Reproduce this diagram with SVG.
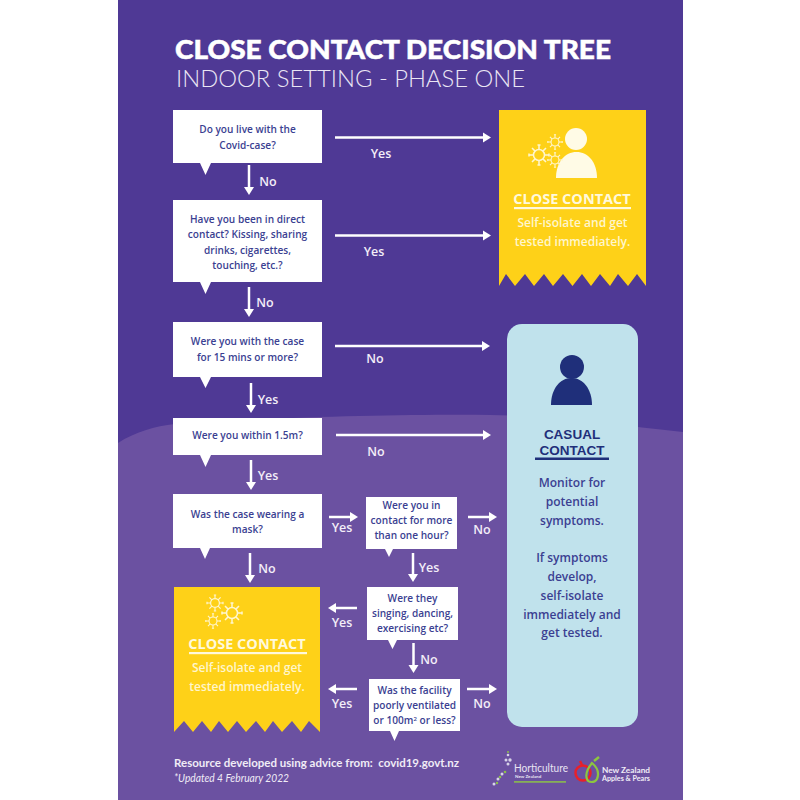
<svg xmlns="http://www.w3.org/2000/svg" width="800" height="800" viewBox="0 0 800 800">
<style>
.q{font:600 10.1px "Open Sans","Liberation Sans",sans-serif;fill:#3b3f92;text-anchor:middle}
.b{fill:#fff}
.y{fill:#fed118}
.l{font:600 12.5px "Open Sans","Liberation Sans",sans-serif;fill:#f3eef8;text-anchor:middle}
.cc{font:700 14.5px "Open Sans","Liberation Sans",sans-serif;fill:#fff9dc;text-anchor:middle}
.cs{font:600 12px "Open Sans","Liberation Sans",sans-serif;fill:#fff6cc;text-anchor:middle}
.ct{font:600 12px "Open Sans","Liberation Sans",sans-serif;fill:#3b3f92;text-anchor:middle}
.ch{font:700 13.5px "Liberation Sans",sans-serif;fill:#1f2f7a;text-anchor:middle}
.a{stroke:#fff;stroke-width:2.5;fill:none;marker-end:url(#ah)}
.f{font-family:"Lato","Liberation Sans",sans-serif;fill:#f0ecf6}
</style>
<defs>
<marker id="ah" markerUnits="userSpaceOnUse" markerWidth="9" markerHeight="11" refX="1" refY="5.5" orient="auto"><path d="M0 0.5L8 5.5L0 10.5Z" fill="#fff"/></marker>
<g id="v" fill="none" stroke="#fff6cf" stroke-width="1.5"><circle r="5.5"/><path d="M0-5.500V-10M0 5.500V10M-5.500 0H-10M5.500 0H10M-3.900-3.900L-7-7M3.900-3.900L7-7M-3.900 3.900L-7 7M3.900 3.900L7 7M-1.500-10H1.500M-1.500 10H1.500M-10-1.500V1.500M10-1.500V1.500"/></g>
</defs>
<rect width="800" height="800" fill="#fff"/>
<rect x="118" y="0" width="565" height="800" fill="#4f3995"/>
<path d="M118 443C135 432 155 426 175 424C260 418 400 414 490 415C560 416 625 426 683 432V800H118Z" fill="#6b51a1"/>
<g id="title">
<text x="175" y="59" font-family="Lato,'Liberation Sans',sans-serif" font-weight="900" font-size="27" fill="#fff" stroke="#fff" stroke-width=".5" textLength="436" lengthAdjust="spacingAndGlyphs">CLOSE CONTACT DECISION TREE</text>
<text x="176" y="87" font-family="Lato,'Liberation Sans',sans-serif" font-weight="300" font-size="24" fill="#eae6f4" textLength="349" lengthAdjust="spacingAndGlyphs">INDOOR SETTING - PHASE ONE</text>
</g>
<g id="connectors">
<path class="a" d="M335 137.500H484"/>
<path class="a" d="M335 235.500H484"/>
<path class="a" d="M335 346H483"/>
<path class="a" d="M336 435H484"/>
<path class="a" d="M249 165V188"/>
<path class="a" d="M249 287V310"/>
<path class="a" d="M251 383V406"/>
<path class="a" d="M251 460V483"/>
<path class="a" d="M250 553V576"/>
<path class="a" d="M329 517H351"/>
<path class="a" d="M468 517H490"/>
<path class="a" d="M413 553V575"/>
<path class="a" d="M357 608H335"/>
<path class="a" d="M413.500 643V666"/>
<path class="a" d="M357 689H335"/>
<path class="a" d="M467 689H490"/>
</g>
<g id="connector-labels">
<text class="l" x="381" y="158">Yes</text>
<text class="l" x="374" y="256">Yes</text>
<text class="l" x="375" y="363">No</text>
<text class="l" x="376" y="456">No</text>
<text class="l" x="268" y="186">No</text>
<text class="l" x="265" y="307">No</text>
<text class="l" x="268" y="404">Yes</text>
<text class="l" x="268" y="480">Yes</text>
<text class="l" x="342" y="532">Yes</text>
<text class="l" x="482" y="534">No</text>
<text class="l" x="267" y="573">No</text>
<text class="l" x="429" y="572">Yes</text>
<text class="l" x="342" y="627">Yes</text>
<text class="l" x="429" y="664">No</text>
<text class="l" x="342" y="708">Yes</text>
<text class="l" x="482" y="708">No</text>
</g>
<g id="q1"><path class="b" d="M173 110H322V163H211L205.500 175L200 163H173Z"/><text class="q" x="247.500" y="133">Do you live with the</text><text class="q" x="247.500" y="149">Covid-case?</text></g>
<g id="q2"><path class="b" d="M173 200H322V282H211L205.500 294L200 282H173Z"/><text class="q" x="247.500" y="223">Have you been in direct</text><text class="q" x="247.500" y="238">contact? Kissing, sharing</text><text class="q" x="247.500" y="254">drinks, cigarettes,</text><text class="q" x="247.500" y="269">touching, etc.?</text></g>
<g id="q3"><path class="b" d="M173 322H322V377H211L205.500 388L200 377H173Z"/><text class="q" x="247.500" y="345">Were you with the case</text><text class="q" x="247.500" y="361">for 15 mins or more?</text></g>
<g id="q4"><path class="b" d="M173 418H322V455H211L205.500 467L200 455H173Z"/><text class="q" x="247.500" y="439">Were you within 1.5m?</text></g>
<g id="q5"><path class="b" d="M173 494H322V548H210L205 559L200 548H173Z"/><text class="q" x="247.500" y="518">Was the case wearing a</text><text class="q" x="247.500" y="533">mask?</text></g>
<g id="q6"><path class="b" d="M366 497H457V549H393L389 557L385 549H366Z"/><text class="q" x="411.500" y="509">Were you in</text><text class="q" x="411.500" y="524">contact for more</text><text class="q" x="411.500" y="539">than one hour?</text></g>
<g id="q7"><path class="b" d="M367 587H458V640H397L392.500 649L388 640H367Z"/><text class="q" x="412.500" y="602">Were they</text><text class="q" x="412.500" y="617">singing, dancing,</text><text class="q" x="412.500" y="632">exercising etc?</text></g>
<g id="q8"><path class="b" d="M369 679H460V731H399L394.500 741L390 731H369Z"/><text class="q" x="414.500" y="694">Was the facility</text><text class="q" x="414.500" y="709">poorly ventilated</text><text class="q" x="414.500" y="724">or 100m<tspan font-size="6" dy="-3.500">2</tspan><tspan dy="3.500"> or less?</tspan></text></g>
<g id="close-contact-top">
<path class="y" d="M499 110H646V286L637 274L628 286L618 274L610 286L600 274L591 286L582 274L572.500 286L563 274L553 286L544 274L534 286L525 274L515 286L506 274L499 286Z"/>
<circle cx="576" cy="139" r="11" fill="#fffbe6"/>
<path d="M556 178C556 162 565 152 576.500 152C588 152 597 162 597 178Z" fill="#fffbe6"/>
<use href="#v" transform="translate(539 155)"/>
<use href="#v" transform="translate(555 142) scale(.72)"/>
<use href="#v" transform="translate(555 160) scale(.72)"/>
<text class="cc" x="572" y="204">CLOSE CONTACT</text>
<rect x="514" y="207" width="117" height="2.200" fill="#fff9dc"/>
<text class="cs" x="572.500" y="227">Self-isolate and get</text>
<text class="cs" x="572.500" y="246">tested immediately.</text>
</g>
<g id="casual-contact">
<rect x="507" y="324" width="131" height="403" rx="15" fill="#c0e2ec"/>
<circle cx="572" cy="367" r="12" fill="#1f2f7a"/>
<path d="M551 405C551 389 560 378 571.500 378C583 378 592 389 592 405Z" fill="#1f2f7a"/>
<text class="ch" x="572" y="438.500">CASUAL</text>
<text class="ch" x="572" y="454.500">CONTACT</text>
<rect x="535" y="457.500" width="74" height="2.500" fill="#1f2f7a"/>
<text class="ct" x="572" y="487">Monitor for</text>
<text class="ct" x="572" y="506">potential</text>
<text class="ct" x="572" y="525">symptoms.</text>
<text class="ct" x="572" y="562">If symptoms</text>
<text class="ct" x="572" y="581">develop,</text>
<text class="ct" x="572" y="600">self-isolate</text>
<text class="ct" x="572" y="619">immediately and</text>
<text class="ct" x="572" y="637">get tested.</text>
</g>
<g id="close-contact-bottom">
<path class="y" d="M174 587H320V732L309 721L301 732L292 721L282 732L273 721L265 732L256 721L246 732L237 721L228 732L219 721L211 732L202 721L193 732L184 721L174 732Z"/>
<use href="#v" transform="translate(215 603) scale(.8)"/>
<use href="#v" transform="translate(232 613)"/>
<use href="#v" transform="translate(213 621) scale(.72)"/>
<text class="cc" x="247" y="649">CLOSE CONTACT</text>
<rect x="189" y="652" width="118" height="2.200" fill="#fff9dc"/>
<text class="cs" x="247" y="672">Self-isolate and get</text>
<text class="cs" x="247" y="691">tested immediately.</text>
</g>
<g id="footer">
<text class="f" x="174" y="767" font-size="11" font-weight="700" textLength="285" lengthAdjust="spacingAndGlyphs">Resource developed using advice from:&#160; covid19.govt.nz</text>
<text class="f" x="174" y="782" font-size="11" font-style="italic" textLength="115" lengthAdjust="spacingAndGlyphs">*Updated 4 February 2022</text>
</g>
<g id="logo-hortnz">
<g fill="#d7d3e8"><circle cx="508" cy="755" r="1.300"/><circle cx="510" cy="760" r="1.700"/><circle cx="506" cy="760" r="1.500"/><circle cx="508" cy="764" r="1.500"/><circle cx="502" cy="774" r="1.500"/><circle cx="498" cy="779" r="1.500"/><circle cx="494" cy="784" r="1.500"/></g>
<g fill="#8cc04a"><circle cx="505" cy="772" r="1.300"/><circle cx="500" cy="777" r="1.300"/><circle cx="497" cy="783" r="1.200"/><circle cx="508" cy="752" r="1"/><rect x="514" y="781" width="52" height="1.800" opacity=".85"/></g>
<text x="514" y="772" font-family="Lato,'Liberation Sans',sans-serif" font-size="11.500" fill="#e8e4f2" textLength="54" lengthAdjust="spacingAndGlyphs">Horticulture</text>
<text x="515" y="778" font-family="Lato,'Liberation Sans',sans-serif" font-weight="700" font-size="4.500" fill="#e8e4f2">New Zealand</text>
</g>
<g id="logo-nzapples">
<circle cx="583" cy="773" r="7.500" fill="none" stroke="#e8202a" stroke-width="2.500"/>
<path d="M592 763C598 768 599 774 597 779C595 783 588 783 587 779C585 774 588 768 592 763Z" fill="none" stroke="#8dc63f" stroke-width="2.200"/>
<path d="M594 761L599 757" stroke="#8dc63f" stroke-width="2.500"/>
<path d="M580 761L582 765" stroke="#e8202a" stroke-width="2.500"/>
<text x="602" y="773" font-family="Lato,'Liberation Sans',sans-serif" font-weight="700" font-size="7.200" fill="#f0ecf6" textLength="48" lengthAdjust="spacingAndGlyphs">New Zealand</text>
<text x="602" y="781" font-family="Lato,'Liberation Sans',sans-serif" font-weight="700" font-size="7.200" fill="#f0ecf6" textLength="48" lengthAdjust="spacingAndGlyphs">Apples &amp; Pears</text>
</g>
</svg>
